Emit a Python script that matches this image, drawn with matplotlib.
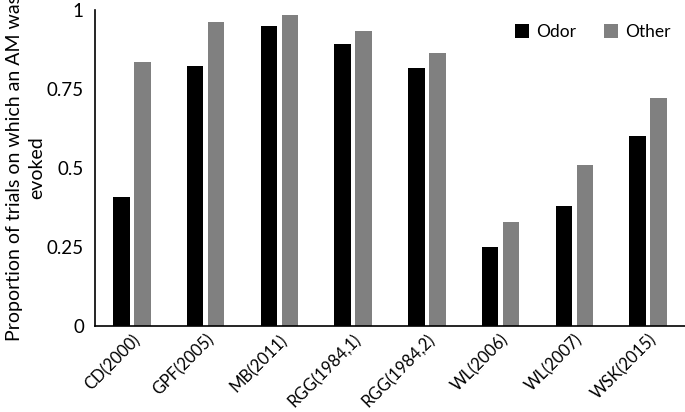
import numpy as np
import matplotlib
matplotlib.use("Agg")
import matplotlib.pyplot as plt

studies = ["CD(2000)", "GPF(2005)", "MB(2011)", "RGG(1984,1)", "RGG(1984,2)",
           "WL(2006)", "WL(2007)", "WSK(2015)"]
odor = [0.408, 0.823, 0.949, 0.892, 0.816, 0.250, 0.380, 0.601]
other = [0.835, 0.962, 0.984, 0.934, 0.864, 0.329, 0.509, 0.722]
yticks = [0, 0.25, 0.5, 0.75, 1]
ytick_labels = ["0", "0.25", "0.5", "0.75", "1"]

plt.rcParams['font.family'] = ['Lato', 'DejaVu Sans']

fig = plt.figure(figsize=(6.85, 4.12), dpi=100)
ax = fig.add_axes([0.1387, 0.2087, 0.8613, 0.7670])

x = np.arange(len(studies))
w = 0.224
ax.bar(x - 0.143, odor, w, color="black", label="Odor")
ax.bar(x + 0.143, other, w, color="#808080", label="Other")

ax.set_xlim(-0.5, 7.5)
ax.set_ylim(0, 1)
ax.set_yticks(yticks)
ax.set_yticklabels(ytick_labels, fontsize=13.5)
ax.set_xticks(x)
ax.set_xticklabels(studies, rotation=45, ha="right", rotation_mode="anchor", fontsize=12)
ax.tick_params(axis="y", length=0, pad=8)
ax.tick_params(axis="x", length=0, pad=4)

for s in ["top", "right"]:
    ax.spines[s].set_visible(False)
ax.spines["left"].set_linewidth(1.2)
ax.spines["bottom"].set_linewidth(1.2)

ax.set_ylabel("Proportion of trials on which an AM was\nevoked", fontsize=14,
              ha="center", linespacing=1.4)
ax.yaxis.set_label_coords(-0.084, 0.5)

leg = ax.legend(loc="center right", ncol=2, frameon=False, fontsize=12.5,
                bbox_to_anchor=(0.99, 0.93), borderpad=0, handlelength=0.8,
                handleheight=0.8, columnspacing=1.6, handletextpad=0.4)

fig.savefig("out.png", dpi=100)
